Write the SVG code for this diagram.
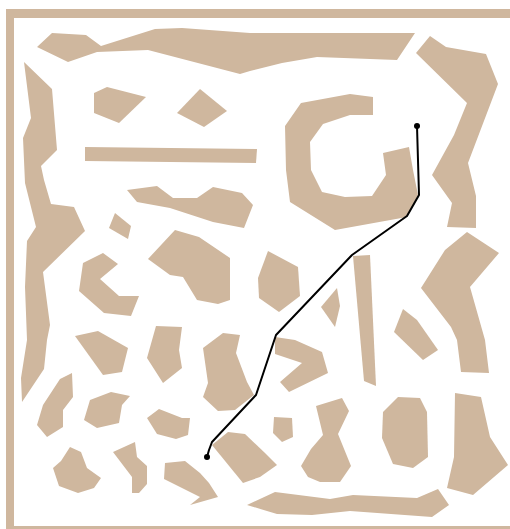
<svg xmlns="http://www.w3.org/2000/svg" width="510" height="529" viewBox="0 0 510 529">
<style>
.ob{fill:#cfb79e;stroke:none}
.path{fill:none;stroke:#000;stroke-width:2;stroke-linejoin:round}
</style>
<rect width="510" height="529" fill="#fff"/>
<g id="frame" class="ob">
<rect x="6" y="9" width="504" height="9"/>
<rect x="6" y="9" width="8" height="520"/>
<rect x="6" y="526" width="504" height="9"/>
</g>
<g id="obstacles" class="ob">
<polygon id="o1" points="37,47 52,33 86,35 101,46 155,29 182,28 250,33 415,33 397,60 317,57 282,63 250,71 240,74 148,50 97,52 68,62"/>
<polygon id="o2" points="24,62 52,89 57,150 41,166 44,180 51,204 74,207 85,231 43,272 50,325 47,340 44,369 22,402 21,378 27,340 25,287 27,241 36,227 25,183 23,138 31,118"/>
<polygon id="o3" points="94,93 107,87 146,97 119,123 94,113"/>
<polygon id="o4" points="177,113 200,89 227,111 204,127"/>
<polygon id="o5" points="85,147 257,149 256,163 85,161"/>
<polygon id="o6" points="301,103 350,94 373,97 373,115 350,115 323,124 310,142 311,170 322,192 345,197 372,196 386,175 383,153 409,147 413,170 418,195 407,217 335,230 290,202 286,170 285,126"/>
<polygon id="o7" points="416,53 430,36 446,47 486,54 498,84 468,163 476,196 476,228 447,227 452,203 432,175 454,135 467,103"/>
<polygon id="o8" points="127,190 157,186 173,198 197,198 213,187 242,193 253,205 244,228 213,222 170,208 137,202"/>
<polygon id="o9" points="115,213 131,226 128,239 109,228"/>
<polygon id="o10" points="103,253 118,264 100,279 119,296 139,296 131,316 104,313 79,291 83,263"/>
<polygon id="o11" points="148,259 175,230 199,237 230,258 230,300 218,304 197,300 183,277 170,275"/>
<polygon id="o12" points="268,251 298,267 300,296 279,312 259,298 258,278"/>
<polygon id="o13" points="321,307 337,288 340,306 335,327"/>
<polygon id="o14" points="353,256 370,255 376,386 364,381"/>
<polygon id="o15" points="421,288 445,250 467,232 499,253 470,287 485,340 489,373 461,372 457,340 451,327"/>
<polygon id="o16" points="403,309 417,320 438,350 423,360 394,332"/>
<polygon id="o17" points="275,337 295,340 322,352 328,373 289,392 280,382 302,363 275,354"/>
<polygon id="o18" points="75,336 98,331 128,348 122,372 103,375"/>
<polygon id="o19" points="156,326 182,327 179,350 182,368 163,383 147,358"/>
<polygon id="o20" points="203,348 223,333 240,335 236,353 247,382 254,395 235,410 218,411 203,397 208,383 204,355"/>
<polygon id="o21" points="37,425 43,405 60,379 72,373 73,397 63,410 63,427 47,437"/>
<polygon id="o22" points="90,400 111,392 130,396 122,405 119,423 97,428 84,420"/>
<polygon id="o23" points="147,418 159,409 182,418 190,418 188,435 176,439 157,434"/>
<polygon id="o24" points="70,447 81,452 87,468 101,478 94,488 78,493 59,486 53,468 61,461"/>
<polygon id="o25" points="113,452 135,442 137,457 147,466 147,484 139,493 132,493 132,477"/>
<polygon id="o26" points="165,463 185,461 200,473 209,483 218,497 190,505 200,497 164,479"/>
<polygon id="o27" points="212,445 228,432 245,434 265,453 277,465 260,477 243,483"/>
<polygon id="o28" points="247,505 275,492 330,499 353,495 417,498 438,489 449,505 432,517 350,511 312,515 277,514"/>
<polygon id="o29" points="274,417 292,418 293,437 282,442 273,433"/>
<polygon id="o30" points="316,406 342,398 349,411 338,434 351,466 340,482 320,482 308,477 301,466 311,449 323,435"/>
<polygon id="o31" points="398,397 420,398 427,412 428,457 413,468 393,464 382,438 383,412"/>
<polygon id="o32" points="455,393 481,397 490,437 508,465 473,495 447,488 454,457"/>
</g>
<g id="route">
<polyline class="path" points="417,126 419,195 407,216 352,255 276,335 256,395 212,442 209,450 207,457"/>
<circle cx="417" cy="126" r="3"/>
<circle cx="207" cy="457" r="3"/>
</g>
</svg>
